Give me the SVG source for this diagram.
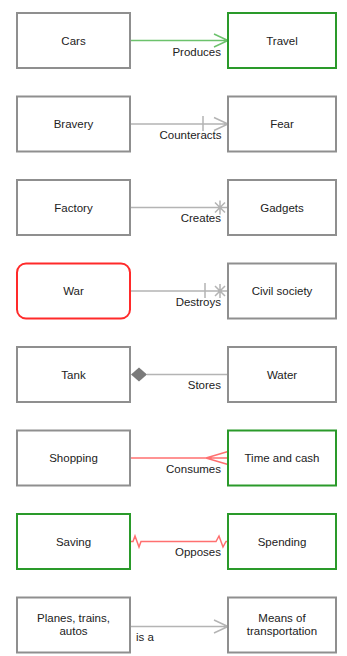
<svg xmlns="http://www.w3.org/2000/svg" width="347" height="656" viewBox="0 0 347 656">
<style>
.n{fill:#fff;stroke:#8f8f8f;stroke-width:2}
.g{stroke:#2a9a2a}
.r{stroke:#ff2a2a}
text{font-family:"Liberation Sans",Arial,sans-serif;font-size:11.5px;fill:#222}
.t{text-anchor:middle}
.l{text-anchor:end}
.c{fill:none;stroke:#b4b4b4;stroke-width:1.5}
.cg{stroke:#6cc26c}
.cr{stroke:#ff7070}
</style>
<rect width="347" height="656" fill="#fff"/>
<g id="connectors">
<path class="c cg" d="M130,40.5H228M214,34L228,40.5L214,47"/>
<path class="c" d="M130,124H228M214,117.5L228,124L214,130.5M203,116V131"/>
<path class="c" d="M130,207.5H228M220,200.5V214.5M215,202.5L225,212.5M215,212.5L225,202.5"/>
<path class="c" d="M130,291H228M205,283V298M220,284V298M215,286L225,296M215,296L225,286"/>
<path class="c" d="M147,374.5H228"/>
<path d="M131,374.5L139,367.5L147,374.5L139,381.5Z" fill="#7a7a7a"/>
<path class="c cr" d="M130,458H228M206,458L228,451.5M206,458L228,464.5"/>
<path class="c cr" d="M130,541.5H133L135,536L139,547L141,541.5H216L219,536L223,547L226,541.5H228"/>
<path class="c" d="M130,626.5H228M214,620L228,626.5L214,633"/>
</g>
<g id="cars"><rect class="n" x="17" y="13" width="113" height="55"/><text class="t" x="73.5" y="44.5">Cars</text></g>
<g id="travel"><rect class="n g" x="228" y="13" width="108" height="55"/><text class="t" x="282" y="44.5">Travel</text></g>
<g id="bravery"><rect class="n" x="17" y="96.5" width="113" height="55"/><text class="t" x="73.5" y="128">Bravery</text></g>
<g id="fear"><rect class="n" x="228" y="96.5" width="108" height="55"/><text class="t" x="282" y="128">Fear</text></g>
<g id="factory"><rect class="n" x="17" y="180" width="113" height="55"/><text class="t" x="73.5" y="211.5">Factory</text></g>
<g id="gadgets"><rect class="n" x="228" y="180" width="108" height="55"/><text class="t" x="282" y="211.5">Gadgets</text></g>
<g id="war"><rect class="n r" x="17" y="263.5" width="113" height="55" rx="9"/><text class="t" x="73.5" y="295">War</text></g>
<g id="civil"><rect class="n" x="228" y="263.5" width="108" height="55"/><text class="t" x="282" y="295">Civil society</text></g>
<g id="tank"><rect class="n" x="17" y="347" width="113" height="55"/><text class="t" x="73.5" y="378.5">Tank</text></g>
<g id="water"><rect class="n" x="228" y="347" width="108" height="55"/><text class="t" x="282" y="378.5">Water</text></g>
<g id="shopping"><rect class="n" x="17" y="430.5" width="113" height="55"/><text class="t" x="73.5" y="462">Shopping</text></g>
<g id="timecash"><rect class="n g" x="228" y="430.5" width="108" height="55"/><text class="t" x="282" y="462">Time and cash</text></g>
<g id="saving"><rect class="n g" x="17" y="514" width="113" height="55"/><text class="t" x="73.5" y="545.5">Saving</text></g>
<g id="spending"><rect class="n g" x="228" y="514" width="108" height="55"/><text class="t" x="282" y="545.5">Spending</text></g>
<g id="planes"><rect class="n" x="17" y="597.5" width="113" height="55"/><text class="t" x="73.5" y="622">Planes, trains,</text><text class="t" x="73.5" y="635">autos</text></g>
<g id="means"><rect class="n" x="228" y="597.5" width="108" height="55"/><text class="t" x="282" y="622">Means of</text><text class="t" x="282" y="635">transportation</text></g>
<g id="labels">
<text class="l" x="221" y="56">Produces</text>
<text class="l" x="221.5" y="139">Counteracts</text>
<text class="l" x="221" y="222">Creates</text>
<text class="l" x="221" y="306">Destroys</text>
<text class="l" x="221" y="389">Stores</text>
<text class="l" x="221" y="473">Consumes</text>
<text class="l" x="221" y="556">Opposes</text>
<text x="136" y="641">is a</text>
</g>
</svg>
